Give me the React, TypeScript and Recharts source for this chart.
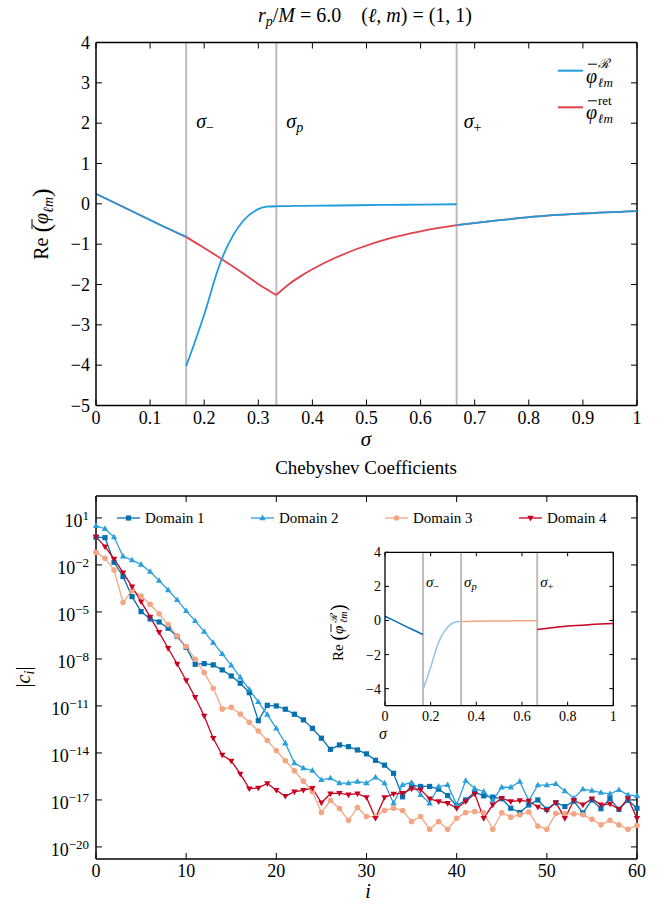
import React from 'react';
import { LineChart, Line, XAxis, YAxis, ReferenceLine, Legend } from 'recharts';

const FONT = '"Liberation Serif", "Times New Roman", serif';
const GREY = '#bdbdbd';
const BLUE = '#1f9cdc';
const RED = '#e2414e';
const DOMAIN_COLORS = ['#0571b0', '#2b9fda', '#f4a582', '#ca0020'];
const INSET_COLORS = ['#0571b0', '#92c5de', '#f4a582', '#ca0020'];
const SHAPES = ['square', 'tri', 'circle', 'tridown'];

// sigma_-, sigma_p, sigma_+
const sigmaBounds = [1 / 6, 1 / 3, 2 / 3];
const sigmaSubs = ['−', 'p', '+'];

// top panel, one array per domain (Re of the field)
const sigmaD1 = [0, 0.04, 0.08, 0.12, 0.1667];
const phiD1 = [0.25, -0.01, -0.27, -0.53, -0.82];

const sigmaD2 = [0.1667, 0.186, 0.2046, 0.2231, 0.2354, 0.2539, 0.2723, 0.297, 0.3155, 0.3333];
const regD2 = [-4.02, -3.3, -2.55, -1.72, -1.27, -0.77, -0.42, -0.15, -0.07, -0.06];
const retD2 = [-0.82, -0.98, -1.13, -1.29, -1.4, -1.56, -1.73, -1.96, -2.12, -2.26];

const sigmaD3 = [0.3333, 0.359, 0.38, 0.42, 0.482, 0.544, 0.6, 0.6667];
const regD3 = [-0.06, -0.055, -0.05, -0.045, -0.035, -0.025, -0.02, -0.01];
const retD3 = [-2.26, -1.97, -1.78, -1.48, -1.12, -0.85, -0.68, -0.53];

const sigmaD4 = [0.6667, 0.75, 0.8, 0.9, 1];
const phiD4 = [-0.53, -0.4, -0.33, -0.24, -0.18];

const sigmaTicks = [0, 0.1, 0.2, 0.3, 0.4, 0.5, 0.6, 0.7, 0.8, 0.9, 1];
const phiTicks = [4, 3, 2, 1, 0, -1, -2, -3, -4, -5];
const insetSigmaTicks = [0, 0.2, 0.4, 0.6, 0.8, 1];
const insetPhiTicks = [4, 2, 0, -2, -4];

// bottom panel: log10 |c_i|, i = 0..60
const logC1 = [
  -0.23, -0.26, -1.83, -2.74, -4.02, -4.98, -5.45, -5.64, -6.04, -6.57,
  -7.26, -8.34, -8.3, -8.38, -8.7, -9.09, -9.55, -10.15, -11.94, -10.96,
  -11.0, -11.21, -11.53, -11.89, -12.43, -13.06, -13.77, -13.49, -13.6, -13.81,
  -14.06, -14.47, -14.78, -15.3, -16.8, -16.06, -16.14, -16.14, -16.31, -16.72,
  -17.38, -17.0, -16.5, -16.74, -16.82, -16.92, -17.53, -17.8, -17.32, -17.0,
  -17.6, -17.17, -17.42, -17.07, -17.83, -17.0, -17.56, -16.92, -17.6, -17.02,
  -17.53,
];
const logC2 = [
  0.5, 0.31, -0.22, -1.45, -1.69, -1.97, -2.43, -3.0, -3.6, -4.23,
  -4.93, -5.57, -6.26, -6.96, -7.68, -8.4, -9.17, -9.94, -10.74, -11.55,
  -12.43, -13.38, -14.65, -14.97, -15.12, -15.72, -15.61, -15.93, -15.93, -15.82,
  -15.93, -15.55, -15.93, -17.21, -16.04, -15.89, -16.67, -17.21, -16.14, -16.04,
  -17.3, -15.77, -16.27, -16.46, -17.02, -16.19, -16.19, -15.82, -17.06, -16.05,
  -16.05, -15.97, -16.43, -16.89, -16.31, -16.4, -16.53, -16.61, -16.36, -16.68,
  -16.74,
];
const logC3 = [
  -1.2, -1.57, -2.32, -4.4, -3.62, -3.98, -4.51, -5.12, -5.81, -6.53,
  -7.21, -8.02, -8.87, -9.87, -11.19, -11.09, -11.51, -12.04, -12.6, -13.21,
  -13.85, -14.5, -15.14, -15.8, -16.48, -17.8, -17.04, -17.55, -18.3, -17.48,
  -18.06, -18.06, -17.67, -17.53, -17.67, -18.38, -18.06, -18.87, -18.38, -18.87,
  -18.17, -17.8, -17.74, -17.82, -18.87, -17.82, -18.1, -17.95, -17.77, -18.67,
  -18.87, -17.87, -17.87, -17.89, -17.95, -18.23, -18.59, -18.3, -18.59, -18.87,
  -18.63,
];
const logC4 = [
  -0.21, -0.83, -1.62, -2.49, -3.39, -4.34, -5.32, -6.3, -7.32, -8.32,
  -9.38, -10.45, -11.64, -13.06, -14.13, -14.51, -15.34, -16.28, -16.23, -15.95,
  -16.38, -16.76, -16.48, -16.38, -16.25, -17.18, -16.6, -16.57, -16.67, -16.6,
  -16.84, -18.16, -16.84, -16.61, -16.57, -16.29, -16.34, -16.92, -17.1, -17.21,
  -17.53, -17.1, -16.61, -18.17, -17.31, -16.89, -17.1, -17.04, -17.07, -17.45,
  -17.66, -17.17, -18.17, -17.02, -17.31, -16.92, -17.31, -17.25, -17.59, -16.9,
  -18.17,
];
const coeffIndex = logC1.map((_, i) => i);
const indexTicks = [0, 10, 20, 30, 40, 50, 60];
const coeffTickExps = [1, -2, -5, -8, -11, -14, -17, -20];
const domainNames = ['Domain 1', 'Domain 2', 'Domain 3', 'Domain 4'];

const pts = (xs: number[], ys: number[]) => xs.map((x, k) => ({ x, y: ys[k] }));
const coeffRows = coeffIndex.map((i) => ({
  i,
  d1: 10 ** logC1[i],
  d2: 10 ** logC2[i],
  d3: 10 ** logC3[i],
  d4: 10 ** logC4[i],
}));
const insetDomains = [pts(sigmaD1, phiD1), pts(sigmaD2, regD2), pts(sigmaD3, regD3), pts(sigmaD4, phiD4)];

const minus = (s: string) => s.replace('-', '−');

function marker(shape: string, cx: number, cy: number, color: string, key: any) {
  if (cx == null || cy == null || isNaN(cx) || isNaN(cy)) return <g key={key} />;
  if (shape === 'square') return <rect key={key} x={cx - 2.6} y={cy - 2.6} width={5.2} height={5.2} fill={color} />;
  if (shape === 'circle') return <circle key={key} cx={cx} cy={cy} r={2.8} fill={color} />;
  if (shape === 'tri') return <path key={key} d={`M${cx},${cy - 3.4}L${cx + 3.2},${cy + 2.2}L${cx - 3.2},${cy + 2.2}Z`} fill={color} />;
  return <path key={key} d={`M${cx},${cy + 3.4}L${cx + 3.2},${cy - 2.2}L${cx - 3.2},${cy - 2.2}Z`} fill={color} />;
}

// ticks drawn inward on both sides of the frame
const xTick = (top: number, bottom: number, len: number, fs: number, fmt: (v: number) => string, dy: number) => (p: any) => (
  <g key={`xt-${p.index}`}>
    <line x1={p.x} x2={p.x} y1={bottom} y2={bottom - len} stroke="#000" strokeWidth={1} />
    <line x1={p.x} x2={p.x} y1={top} y2={top + len} stroke="#000" strokeWidth={1} />
    <text x={p.x} y={bottom + dy} textAnchor="middle" fontFamily={FONT} fontSize={fs} fill="#000">{fmt(p.payload.value)}</text>
  </g>
);
const yTick = (left: number, right: number, len: number, fs: number, dx: number, dy: number) => (p: any) => (
  <g key={`yt-${p.index}`}>
    <line x1={left} x2={left + len} y1={p.y} y2={p.y} stroke="#000" strokeWidth={1} />
    <line x1={right} x2={right - len} y1={p.y} y2={p.y} stroke="#000" strokeWidth={1} />
    <text x={left - dx} y={p.y + dy} textAnchor="end" fontFamily={FONT} fontSize={fs} fill="#000">{minus(String(p.payload.value))}</text>
  </g>
);
const logTick = (left: number, right: number, len: number) => (p: any) => {
  const e = Math.round(Math.log10(p.payload.value));
  return (
    <g key={`lt-${p.index}`}>
      <line x1={left} x2={left + len} y1={p.y} y2={p.y} stroke="#000" strokeWidth={1} />
      <line x1={right} x2={right - len} y1={p.y} y2={p.y} stroke="#000" strokeWidth={1} />
      <text x={left - 7} y={p.y + 9} textAnchor="end" fontFamily={FONT} fontSize={18} fill="#000">
        10<tspan fontSize={13} dy={-7}>{minus(String(e))}</tspan>
      </text>
    </g>
  );
};

const SigmaLabel = (props: any) => {
  const { viewBox, sub, shiftX, baseY, fs } = props;
  if (!viewBox) return null;
  return (
    <text x={viewBox.x + shiftX} y={baseY} fontFamily={FONT} fontSize={fs} fontStyle="italic" fill="#000">
      σ<tspan fontSize={fs * 0.7} dy={fs * 0.2} fontStyle={sub === 'p' ? 'italic' : 'normal'}>{sub}</tspan>
    </text>
  );
};

const PhiLegend = ({ payload }: any) => (
  <svg width={84} height={80} style={{ overflow: 'visible' }}>
    {payload.map((entry: any, k: number) => {
      const y = 18.7 + k * 36.6;
      return (
        <g key={entry.value} fontFamily={FONT}>
          <line x1={0} x2={25} y1={y} y2={y} stroke={entry.color} strokeWidth={2} />
          <line x1={30} x2={39} y1={y - 6.5} y2={y - 6.5} stroke="#000" strokeWidth={1} />
          <text x={28} y={y + 12} fontSize={20} fontStyle="italic">φ</text>
          <text x={40} y={y - 2.5} fontSize={13} fontStyle={k === 0 ? 'italic' : 'normal'}>{entry.value}</text>
          <text x={40} y={y + 16} fontSize={13} fontStyle="italic">ℓm</text>
        </g>
      );
    })}
  </svg>
);

const uniqueEntries = (payload: any[]) => {
  const seen: Record<string, boolean> = {};
  return (payload || []).filter((e: any) => {
    if (e.type === 'none' || seen[e.value]) return false;
    seen[e.value] = true;
    return true;
  });
};

const CoeffLegend = ({ payload }: any) => (
  <div style={{ display: 'flex', fontFamily: FONT, fontSize: 15, lineHeight: '16px' }}>
    {(payload || []).map((entry: any, k: number) => (
      <div key={entry.value} style={{ width: 134, display: 'flex', alignItems: 'center' }}>
        <svg width={28} height={14}>
          <line x1={0} x2={23} y1={7} y2={7} stroke={entry.color} strokeWidth={1.3} />
          {marker(SHAPES[k], 11.5, 7, entry.color, 'm')}
        </svg>
        <span>{entry.value}</span>
      </div>
    ))}
  </div>
);

// plot rectangles (chart coordinates)
const T = { left: 96, right: 637, top: 42.5, bottom: 405.5 };
const B = { left: 96, right: 637, top: 36, bottom: 399 };
const I = { left: 65, right: 293.3, top: 12.3, bottom: 165.7 };

const fmtSigma = (v: number) => (v === 0 || v === 1 ? String(v) : v.toFixed(1));

function TopPanel() {
  const blueSegs = [pts(sigmaD1, phiD1), pts(sigmaD2, regD2), pts(sigmaD3, regD3), pts(sigmaD4, phiD4)];
  const redSegs = [pts(sigmaD1, phiD1), pts(sigmaD2, retD2), pts(sigmaD3, retD3), pts(sigmaD4, phiD4)];
  return (
    <LineChart width={667} height={460} margin={{ top: T.top, right: 667 - T.right, bottom: 460 - T.bottom - 30, left: T.left - 60 }}>
      <XAxis type="number" dataKey="x" domain={[0, 1]} ticks={sigmaTicks} height={30} tickLine={false}
        axisLine={{ stroke: '#000', strokeWidth: 1.5 }} tick={xTick(T.top, T.bottom, 6, 18, fmtSigma, 18)} allowDataOverflow />
      <YAxis type="number" domain={[-5, 4]} ticks={phiTicks} width={60} tickLine={false}
        axisLine={{ stroke: '#000', strokeWidth: 1.5 }} tick={yTick(T.left, T.right, 6, 18, 6, 6)} allowDataOverflow />
      {sigmaBounds.map((s, k) => (
        <ReferenceLine key={s} x={s} stroke={GREY} strokeWidth={2}
          label={<SigmaLabel sub={sigmaSubs[k]} shiftX={k === 2 ? 7 : 10} baseY={128} fs={20} />} />
      ))}
      <ReferenceLine y={4} stroke="#000" strokeWidth={1.5} />
      <ReferenceLine x={1} stroke="#000" strokeWidth={1.5} />
      {redSegs.map((d, k) => (
        <Line key={`r${k}`} data={d} dataKey="y" type="monotone" stroke={RED} strokeWidth={1.8} dot={false}
          isAnimationActive={false} name="ret" legendType={k === 2 ? 'line' : 'none'} />
      ))}
      {blueSegs.map((d, k) => (
        <Line key={`b${k}`} data={d} dataKey="y" type="monotone" stroke={BLUE} strokeWidth={1.8} dot={false}
          isAnimationActive={false} name="ℛ" legendType={k === 1 ? 'line' : 'none'} />
      ))}
      <Legend align="center" verticalAlign="middle"
        content={(p: any) => <PhiLegend payload={uniqueEntries(p.payload).sort((a: any) => (a.value === 'ℛ' ? -1 : 1))} />}
        wrapperStyle={{ left: 558, top: 52, width: 90, height: 80 }} />
    </LineChart>
  );
}

function CoeffPanel() {
  const keys = ['d1', 'd2', 'd3', 'd4'];
  return (
    <LineChart width={667} height={445} data={coeffRows} margin={{ top: B.top, right: 667 - B.right, bottom: 445 - B.bottom - 30, left: B.left - 60 }}>
      <XAxis type="number" dataKey="i" domain={[0, 60]} ticks={indexTicks} height={30} tickLine={false}
        axisLine={{ stroke: '#000', strokeWidth: 1.5 }} tick={xTick(B.top, B.bottom, 6, 18, (v) => String(v), 18)} />
      <YAxis type="number" scale="log" domain={[10 ** -20.77, 10 ** 2.4]} ticks={coeffTickExps.map((e) => 10 ** e)} width={60}
        tickLine={false} axisLine={{ stroke: '#000', strokeWidth: 1.5 }} tick={logTick(B.left, B.right, 6)} allowDataOverflow />
      <ReferenceLine y={10 ** 2.4} stroke="#000" strokeWidth={1.5} />
      <ReferenceLine x={60} stroke="#000" strokeWidth={1.5} />
      {keys.map((k, n) => (
        <Line key={k} dataKey={k} name={domainNames[n]} type="linear" stroke={DOMAIN_COLORS[n]} strokeWidth={1.3}
          isAnimationActive={false} dot={(p: any) => marker(SHAPES[n], p.cx, p.cy, DOMAIN_COLORS[n], `${k}-${p.index}`)} />
      ))}
      <Legend align="center" verticalAlign="middle" content={(p: any) => <CoeffLegend payload={p.payload} />}
        wrapperStyle={{ left: 117, top: 50, width: 540, height: 16 }} />
    </LineChart>
  );
}

function InsetPanel() {
  return (
    <LineChart width={310} height={210} margin={{ top: I.top, right: 310 - I.right, bottom: 210 - I.bottom - 25, left: I.left - 40 }}>
      <XAxis type="number" dataKey="x" domain={[0, 1]} ticks={insetSigmaTicks} height={25} tickLine={false}
        axisLine={{ stroke: '#000', strokeWidth: 1.3 }} tick={xTick(I.top, I.bottom, 4, 14, fmtSigma, 15)} />
      <YAxis type="number" domain={[-5, 4]} ticks={insetPhiTicks} width={40} tickLine={false}
        axisLine={{ stroke: '#000', strokeWidth: 1.3 }} tick={yTick(I.left, I.right, 4, 14, 4, 5)} allowDataOverflow />
      {sigmaBounds.map((s, k) => (
        <ReferenceLine key={s} x={s} stroke={GREY} strokeWidth={2}
          label={<SigmaLabel sub={sigmaSubs[k]} shiftX={3} baseY={47} fs={15} />} />
      ))}
      <ReferenceLine y={4} stroke="#000" strokeWidth={1.3} />
      <ReferenceLine x={1} stroke="#000" strokeWidth={1.3} />
      {insetDomains.map((d, n) => (
        <Line key={n} data={d} dataKey="y" type="monotone" stroke={INSET_COLORS[n]} strokeWidth={1.5} dot={false} isAnimationActive={false} />
      ))}
    </LineChart>
  );
}

export default function App() {
  const txt = { fontFamily: FONT, fill: '#000' } as const;
  return (
    <div style={{ position: 'absolute', left: 0, top: 0, width: 667, height: 905, background: '#fff' }}>
      <div style={{ position: 'absolute', left: 0, top: 0 }}><TopPanel /></div>
      <div style={{ position: 'absolute', left: 0, top: 460 }}><CoeffPanel /></div>
      <div style={{ position: 'absolute', left: 320, top: 540 }}><InsetPanel /></div>
      <svg width={667} height={905} style={{ position: 'absolute', left: 0, top: 0, pointerEvents: 'none' }}>
        <text x={365} y={22} textAnchor="middle" fontSize={20} style={{ whiteSpace: 'pre' }} {...txt}>
          <tspan fontStyle="italic">r</tspan><tspan fontSize={14} dy={4} fontStyle="italic">p</tspan>
          <tspan dy={-4}>/</tspan><tspan fontStyle="italic">M</tspan>
          <tspan> = 6.0    (</tspan><tspan fontStyle="italic">ℓ, m</tspan><tspan>) = (1, 1)</tspan>
        </text>
        <text x={366} y={446} textAnchor="middle" fontSize={21} fontStyle="italic" {...txt}>σ</text>
        <g transform="translate(48,224) rotate(-90)">
          <text x={0} y={0} textAnchor="middle" fontSize={20} {...txt}>
            Re <tspan fontSize={26} dy={2}>(</tspan><tspan fontStyle="italic" dy={-2}>φ</tspan>
            <tspan fontSize={14} dy={5} fontStyle="italic">ℓm</tspan><tspan fontSize={26} dy={-3}>)</tspan>
          </text>
          <line x1={-5} x2={5} y1={-16} y2={-16} stroke="#000" strokeWidth={1} />
        </g>
        <text x={366} y={474} textAnchor="middle" fontSize={19} {...txt}>Chebyshev Coefficients</text>
        <text x={368} y={898} textAnchor="middle" fontSize={20} fontStyle="italic" {...txt}>i</text>
        <text transform="translate(30,677) rotate(-90)" textAnchor="middle" fontSize={20} {...txt}>
          |<tspan fontStyle="italic">c</tspan><tspan fontSize={14} dy={4} fontStyle="italic">i</tspan><tspan dy={-4}>|</tspan>
        </text>
        <text x={383} y={739} textAnchor="middle" fontSize={16} fontStyle="italic" {...txt}>σ</text>
        <g transform="translate(343,628) rotate(-90)">
          <text x={-33} y={0} fontSize={15} {...txt}>
            Re <tspan fontSize={20} dy={2}>(</tspan><tspan fontStyle="italic" dy={-2}>φ</tspan>
          </text>
          <line x1={-4} x2={4} y1={-12} y2={-12} stroke="#000" strokeWidth={0.9} />
          <text x={5} y={-6} fontSize={10} fontStyle="italic" {...txt}>ℛ</text>
          <text x={5} y={4} fontSize={10} fontStyle="italic" {...txt}>ℓm</text>
          <text x={17} y={2} fontSize={20} {...txt}>)</text>
        </g>
      </svg>
    </div>
  );
}
